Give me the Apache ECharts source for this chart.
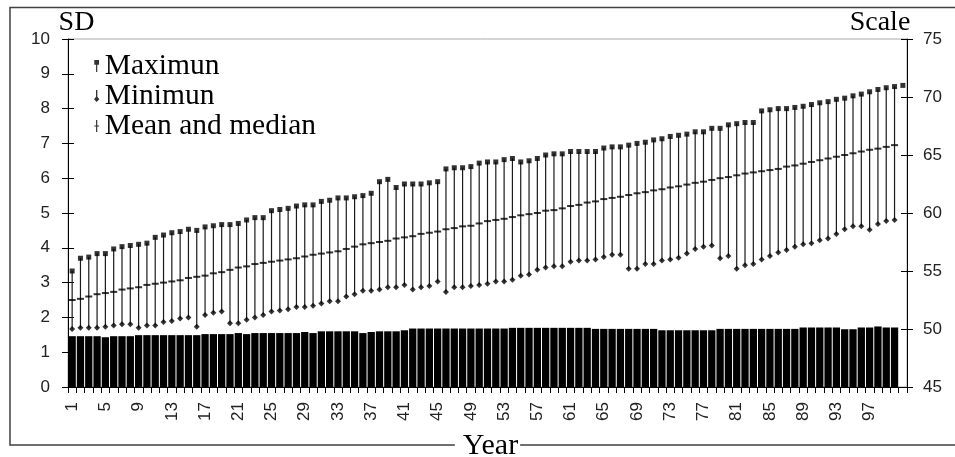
<!DOCTYPE html>
<html>
<head>
<meta charset="utf-8">
<script src="https://cdn.jsdelivr.net/npm/echarts@6/dist/echarts.min.js"></script>
<style>
html,body{margin:0;padding:0;background:#fff;}
#chart{width:955px;height:457px;}
</style>
</head>
<body>
<div id="chart"></div>
<script>
// ---- Data ----
var categories = ['1','2','3','4','5','6','7','8','9','10','11','12','13','14','15','16','17','18','19','20',
'21','22','23','24','25','26','27','28','29','30','31','32','33','34','35','36','37','38','39','40',
'41','42','43','44','45','46','47','48','49','50','51','52','53','54','55','56','57','58','59','60',
'61','62','63','64','65','66','67','68','69','70','71','72','73','74','75','76','77','78','79','80',
'81','82','83','84','85','86','87','88','89','90','91','92','93','94','95','96','97','98','99','100',''];

var sdValues = [1.46,1.46,1.46,1.46,1.43,1.46,1.46,1.46,1.49,1.49,
1.49,1.49,1.49,1.49,1.49,1.49,1.52,1.52,1.52,1.52,
1.55,1.52,1.55,1.55,1.55,1.55,1.55,1.55,1.58,1.55,
1.60,1.60,1.60,1.60,1.60,1.55,1.58,1.60,1.60,1.60,
1.63,1.68,1.68,1.68,1.68,1.68,1.68,1.68,1.68,1.68,
1.68,1.68,1.68,1.70,1.70,1.70,1.70,1.70,1.70,1.70,
1.70,1.70,1.70,1.67,1.67,1.67,1.67,1.67,1.67,1.67,
1.67,1.63,1.63,1.63,1.63,1.63,1.63,1.63,1.67,1.67,
1.67,1.67,1.67,1.67,1.67,1.67,1.67,1.67,1.71,1.71,
1.71,1.71,1.71,1.66,1.66,1.71,1.71,1.74,1.71,1.71];

var maxValues = [55.0,56.1,56.2,56.5,56.5,56.9,57.1,57.2,57.3,57.4,
57.9,58.1,58.3,58.4,58.6,58.5,58.8,58.9,59.0,59.0,
59.1,59.4,59.6,59.6,60.2,60.3,60.4,60.6,60.7,60.7,
61.0,61.1,61.3,61.3,61.4,61.5,61.7,62.7,62.9,62.2,
62.5,62.5,62.5,62.6,62.7,63.8,63.9,63.9,64.0,64.3,
64.4,64.4,64.6,64.7,64.4,64.5,64.7,65.0,65.1,65.1,
65.3,65.3,65.3,65.3,65.6,65.7,65.7,65.85,66.0,66.1,
66.3,66.4,66.6,66.7,66.8,67.0,67.0,67.3,67.3,67.6,
67.7,67.8,67.8,68.8,68.9,69.0,69.0,69.1,69.2,69.35,
69.5,69.6,69.8,69.9,70.1,70.25,70.45,70.65,70.8,70.9,
71.0];

var meanValues = [52.5,52.6,52.8,53.0,53.1,53.2,53.4,53.5,53.6,53.8,
53.9,54.0,54.1,54.2,54.4,54.5,54.6,54.8,54.9,55.1,
55.3,55.4,55.6,55.7,55.8,55.9,56.0,56.1,56.25,56.4,
56.5,56.6,56.7,56.9,57.1,57.3,57.4,57.5,57.6,57.8,
57.9,58.0,58.2,58.3,58.4,58.6,58.7,58.85,58.9,59.1,
59.3,59.4,59.5,59.65,59.8,59.9,60.0,60.2,60.25,60.4,
60.6,60.7,60.9,61.0,61.2,61.3,61.4,61.55,61.7,61.8,
61.95,62.05,62.2,62.3,62.45,62.6,62.7,62.85,63.0,63.1,
63.25,63.4,63.5,63.6,63.7,63.8,64.0,64.1,64.25,64.4,
64.55,64.7,64.85,65.0,65.15,65.3,65.45,65.55,65.7,65.85];

var minValues = [50.0,50.1,50.1,50.1,50.2,50.3,50.4,50.4,50.1,50.3,
50.3,50.6,50.7,50.9,51.0,50.2,51.2,51.4,51.5,50.5,
50.5,50.8,51.0,51.2,51.5,51.6,51.7,51.9,51.9,52.0,
52.2,52.4,52.4,52.8,53.0,53.3,53.3,53.4,53.6,53.6,
53.8,53.4,53.6,53.7,54.1,53.2,53.6,53.6,53.7,53.8,
53.9,54.1,54.1,54.25,54.6,54.7,55.1,55.3,55.4,55.4,
55.8,55.9,55.9,56.0,56.2,56.4,56.4,55.2,55.2,55.6,
55.6,55.9,56.0,56.15,56.5,56.9,57.1,57.2,56.1,56.3,
55.2,55.5,55.6,56.0,56.3,56.6,56.8,57.1,57.3,57.4,
57.65,57.8,58.2,58.6,58.85,58.85,58.55,59.05,59.3,59.4];

var sdTicks = {min: 0, max: 10, interval: 1};
var scaleTicks = {min: 45, max: 75, interval: 5};

// ---- Build ----
var highLowData = minValues.map(function (v, i) { return [i, v, maxValues[i]]; });

var SERIF = 'Liberation Serif';
var SANS = 'Liberation Sans';

var chart = echarts.init(document.getElementById('chart'), null, {renderer: 'canvas'});

var labelStyle = {fontFamily: SANS, fontSize: 17, color: '#222'};

chart.setOption({
  backgroundColor: '#fff',
  animation: false,
  graphic: [{
    type: 'rect', z: -10, silent: true,
    shape: {x: 10, y: 7.5, width: 1000, height: 437.5},
    style: {fill: 'none', stroke: '#404040', lineWidth: 1.5}
  }],
  grid: {left: 68, right: 48, top: 39, bottom: 70, outerBoundsMode: 'none', containLabel: false,
         show: true, borderColor: '#aaa', borderWidth: 1, backgroundColor: 'transparent'},
  legend: {
    orient: 'vertical', left: 89, top: 46, itemWidth: 6, itemHeight: 12, itemGap: 0,
    selectedMode: false,
    textStyle: {fontFamily: SERIF, fontSize: 29.5, color: '#000', lineHeight: 30},
    data: [
      {name: 'Maximun', icon: 'path://M0,0 H4 V4 H2.5 V10 H1.5 V4 H0 Z'},
      {name: 'Minimun', icon: 'path://M1.5,0 H2.5 V5 L4,7 L2,9 L0,7 L1.5,5 Z'},
      {name: 'Mean and median', icon: 'path://M1.5,0 H2.5 V4.5 H4 V5.5 H2.5 V10 H1.5 V5.5 H0 V4.5 H1.5 Z'}
    ]
  },
  xAxis: {
    type: 'category', data: categories, boundaryGap: true,
    name: 'Year', nameLocation: 'middle', nameGap: 44,
    nameTextStyle: {fontFamily: SERIF, fontSize: 30, color: '#000', backgroundColor: '#fff', padding: [0, 2, 0, 8]},
    axisLine: {lineStyle: {color: '#000', width: 1}},
    axisTick: {show: true, interval: 0, length: 6, lineStyle: {color: '#000'}},
    axisLabel: Object.assign({interval: 3, rotate: 90, margin: 15}, labelStyle),
    splitLine: {show: false}
  },
  yAxis: [
    {
      type: 'value', position: 'left', min: sdTicks.min, max: sdTicks.max, interval: sdTicks.interval,
      name: 'SD', nameLocation: 'end', nameGap: 2,
      nameTextStyle: {fontFamily: SERIF, fontSize: 28, color: '#000', align: 'center', padding: [0, 0, 0, 17]},
      axisLine: {show: true, lineStyle: {color: '#000'}},
      axisTick: {show: true, length: 6, lineStyle: {color: '#000'}},
      axisLabel: Object.assign({margin: 18}, labelStyle),
      splitLine: {show: false}
    },
    {
      type: 'value', position: 'right', min: scaleTicks.min, max: scaleTicks.max, interval: scaleTicks.interval,
      name: 'Scale', nameLocation: 'end', nameGap: 2,
      nameTextStyle: {fontFamily: SERIF, fontSize: 28, color: '#000', align: 'center', padding: [0, 54, 0, 0]},
      axisLine: {show: true, lineStyle: {color: '#000'}},
      axisTick: {show: true, length: 6, lineStyle: {color: '#000'}},
      axisLabel: Object.assign({margin: 16}, labelStyle),
      splitLine: {show: false}
    },
    {
      type: 'value', position: 'left', min: sdTicks.min, max: sdTicks.max, interval: sdTicks.interval,
      axisLine: {show: false}, axisLabel: {show: false}, splitLine: {show: false},
      axisTick: {show: true, inside: true, length: 6, lineStyle: {color: '#000'}}
    },
    {
      type: 'value', position: 'right', min: scaleTicks.min, max: scaleTicks.max, interval: scaleTicks.interval,
      axisLine: {show: false}, axisLabel: {show: false}, splitLine: {show: false},
      axisTick: {show: true, inside: true, length: 6, lineStyle: {color: '#000'}}
    }
  ],
  series: [
    {
      name: 'SD', type: 'bar', yAxisIndex: 0, data: sdValues,
      barCategoryGap: '12%', itemStyle: {color: '#000'}, silent: true, z: 1
    },
    {
      name: 'HighLow', type: 'custom', yAxisIndex: 1, data: highLowData, z: 2, silent: true,
      encode: {x: 0, y: [1, 2]},
      renderItem: function (params, api) {
        var lo = api.coord([api.value(0), api.value(1)]);
        var hi = api.coord([api.value(0), api.value(2)]);
        return {type: 'line', shape: {x1: lo[0], y1: lo[1], x2: hi[0], y2: hi[1]},
                style: {stroke: '#1a1a1a', lineWidth: 1.2}};
      }
    },
    {
      name: 'Maximun', type: 'scatter', yAxisIndex: 1, data: maxValues, z: 3,
      symbol: 'rect', symbolSize: [5, 5], itemStyle: {color: '#000'}, silent: true
    },
    {
      name: 'Minimun', type: 'scatter', yAxisIndex: 1, data: minValues, z: 3,
      symbol: 'diamond', symbolSize: [6, 6], itemStyle: {color: '#000'}, silent: true
    },
    {
      name: 'Mean and median', type: 'scatter', yAxisIndex: 1, data: meanValues, z: 3,
      symbol: 'rect', symbolSize: [7, 2], itemStyle: {color: '#000'}, silent: true
    }
  ]
});
</script>
</body>
</html>
